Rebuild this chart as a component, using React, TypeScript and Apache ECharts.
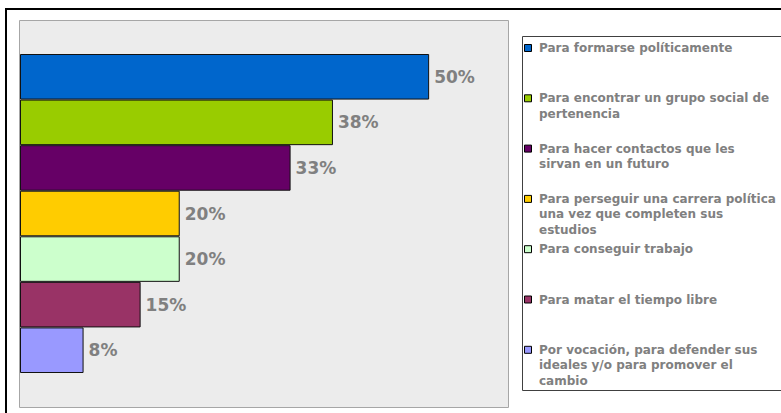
import React, { useEffect, useRef } from "react";
import * as echarts from "echarts";

const categories = [
  "Para formarse políticamente",
  "Para encontrar un grupo social de\npertenencia",
  "Para hacer contactos que les\nsirvan en un futuro",
  "Para perseguir una carrera política\nuna vez que completen sus\nestudios",
  "Para conseguir trabajo",
  "Para matar el tiempo libre",
  "Por vocación, para defender sus\nideales y/o para promover el\ncambio",
];
const values = [50.2, 38.4, 33.2, 19.6, 19.6, 14.8, 7.8];
const colors = ["#0066cc", "#99cc00", "#660066", "#ffcc00", "#ccffcc", "#993366", "#9999ff"];

export default function App() {
  const ref = useRef<HTMLDivElement>(null);
  useEffect(() => {
    if (!ref.current) return;
    const chart = echarts.init(ref.current, null, { renderer: "svg" });
    const legendEls: any[] = [];
    categories.forEach((name, i) => {
      const cy = 48 + i * 50.3;
      legendEls.push({
        type: "rect",
        z: 20,
        shape: { x: 524.5, y: cy - 3.5, width: 7, height: 7 },
        style: { fill: colors[i], stroke: "#000", lineWidth: 1 },
      });
      legendEls.push({
        type: "text",
        z: 20,
        x: 539,
        y: cy - 7.75,
        style: {
          text: name,
          fill: "#808080",
          font: "bold 12px 'DejaVu Sans'",
          lineHeight: 15.5,
          verticalAlign: "top",
          align: "left",
        },
      });
    });
    chart.setOption({
      animation: false,
      backgroundColor: "#fff",
      grid: { left: 20, top: 54, width: 489, height: 319, containLabel: false },
      xAxis: { type: "value", min: 0, max: 60, show: false },
      yAxis: { type: "category", data: categories, inverse: true, show: false },
      series: [
        {
          type: "bar",
          barCategoryGap: "0%",
          data: values.map((v, i) => ({ value: v, itemStyle: { color: colors[i] } })),
          itemStyle: { borderColor: "#111", borderWidth: 1 },
          label: {
            show: true,
            position: "right",
            distance: 5,
            formatter: (p: any) => Math.round(p.value) + "%",
            color: "#808080",
            fontFamily: "DejaVu Sans",
            fontWeight: "bold",
            fontSize: 17,
          },
        },
      ],
      graphic: [
        {
          type: "rect",
          z: -10,
          shape: { x: 6, y: 9, width: 800, height: 420 },
          style: { fill: "#fff", stroke: "#000", lineWidth: 2 },
        },
        {
          type: "rect",
          z: -5,
          shape: { x: 19.5, y: 20.5, width: 489, height: 387 },
          style: { fill: "#ececec", stroke: "#a6a6a6", lineWidth: 1 },
        },
        {
          type: "rect",
          z: -5,
          shape: { x: 522.5, y: 36.5, width: 300, height: 354 },
          style: { fill: "#fff", stroke: "#404040", lineWidth: 1 },
        },
        ...legendEls,
      ],
    });
    return () => chart.dispose();
  }, []);
  return (
    <div
      ref={ref}
      style={{ position: "fixed", left: 0, top: 0, width: 781, height: 413 }}
    />
  );
}
